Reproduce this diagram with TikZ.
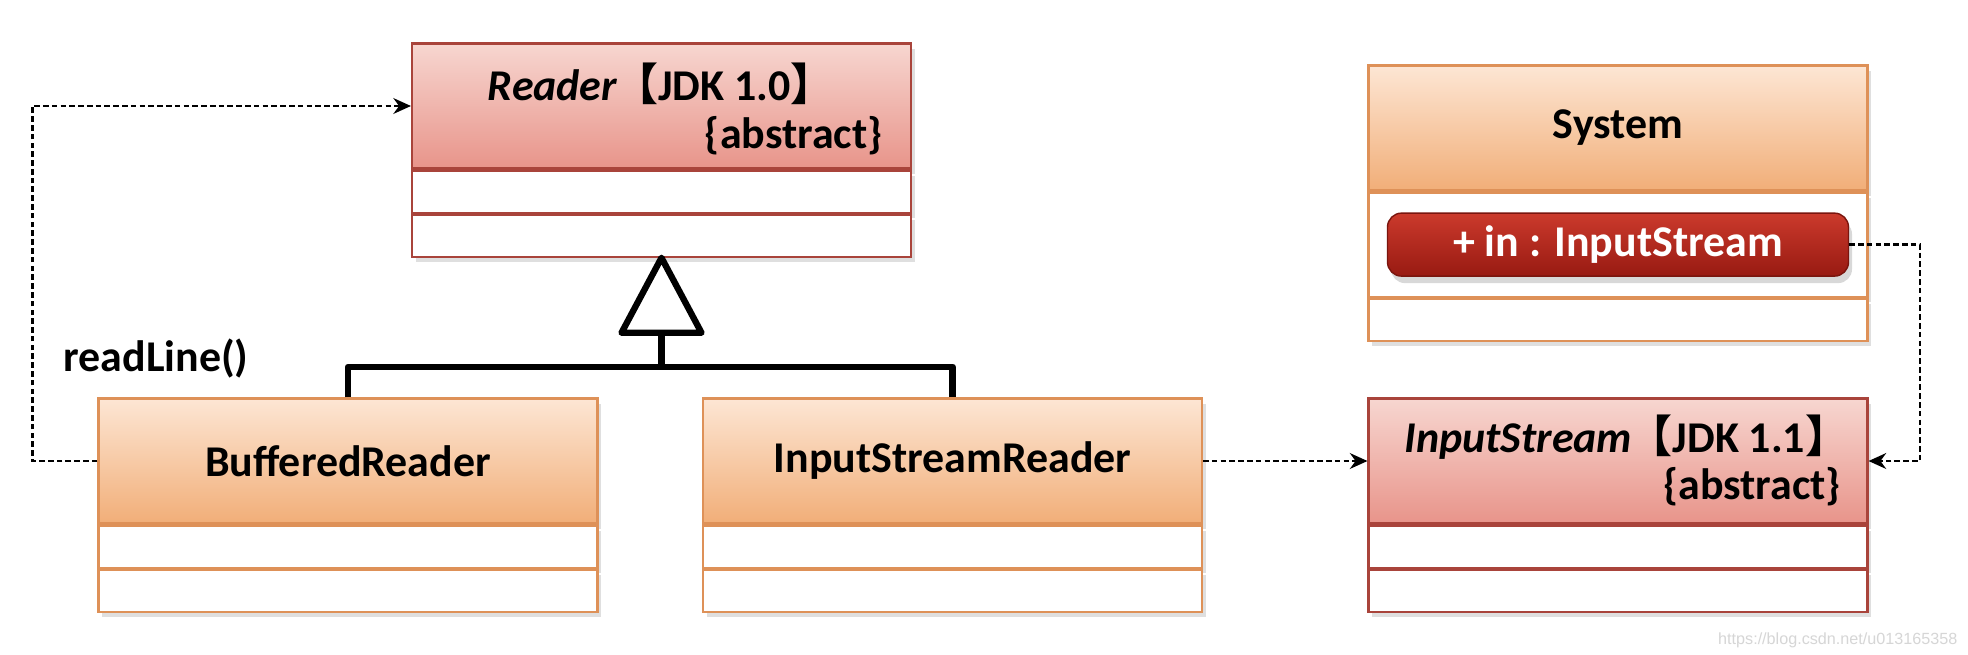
\documentclass[tikz,border=0pt]{standalone}
\usepackage{fontspec}
\setmainfont{Carlito}
\newfontfamily\cjk{Noto Sans CJK SC}
\newfontfamily\markfont{Liberation Sans}
\usepackage{tikz}
\usetikzlibrary{positioning,arrows.meta,shadows}
\definecolor{pinkline}{HTML}{A9443B}
\definecolor{pinktop}{HTML}{F7D6D0}
\definecolor{pinkbot}{HTML}{E8948A}
\definecolor{orangeline}{HTML}{DE9158}
\definecolor{orangetop}{HTML}{FDE6D4}
\definecolor{orangebot}{HTML}{F1AE78}
\definecolor{pilltop}{HTML}{CB3A2C}
\definecolor{pillbot}{HTML}{981A12}
\newcommand{\lbk}{\kern-0.3em{\cjk 【}}
\newcommand{\rbk}{{\cjk 】}\kern-0.4em}

\begin{document}
\begin{tikzpicture}[
	every node/.style={font=\fontsize{12.5pt}{15pt}\selectfont\bfseries},
	classhead/.style={minimum width=4.99cm,minimum height=1.25cm,inner sep=0pt,line width=0.6pt,
		drop shadow={shadow xshift=1pt,shadow yshift=-1.5pt,opacity=0.25}},
	pinkhead/.style={classhead,draw=pinkline,top color=pinktop,bottom color=pinkbot},
	orangehead/.style={classhead,draw=orangeline,top color=orangetop,bottom color=orangebot},
	slot/.style={minimum width=4.99cm,minimum height=0.42cm,inner sep=0pt,fill=white,line width=0.6pt,
		drop shadow={shadow xshift=1pt,shadow yshift=-1.5pt,opacity=0.25}},
	pinkslot/.style={slot,draw=pinkline},
	orangeslot/.style={slot,draw=orangeline},
	dep/.style={line width=0.7pt,dash pattern=on 1.6pt off 0.9pt,-{Stealth[length=5pt,width=4.5pt]}},
	inherit/.style={line width=1.8pt,line join=round}
]
	\fill[white] (0,0) rectangle (19.68,6.54);
	\node[pinkhead] (reader) at (6.615,5.48) {};
	\node[pinkslot,below=0pt of reader] (reader-a) {};
	\node[pinkslot,below=0pt of reader-a] (reader-b) {};
	\node (reader-name) at ([xshift=-0.09cm,yshift=0.22cm]reader.center) {\textit{Reader}\ \lbk JDK 1.0\rbk};
	\node[anchor=east,inner sep=0pt] (reader-abs) at ([xshift=-0.29cm,yshift=-0.30cm]reader.east) {\{abstract\}};

	\node[orangehead] (sys) at (16.18,5.26) {System};
	\node[orangeslot,below=0pt of sys,minimum height=1.04cm] (sys-a) {};
	\node[orangeslot,below=0pt of sys-a] (sys-b) {};
	\node[draw=pillbot!80!black,top color=pilltop,bottom color=pillbot,rounded corners=4pt,
		minimum width=4.61cm,minimum height=0.63cm,text=white,
		drop shadow={shadow xshift=1pt,shadow yshift=-2pt,opacity=0.3}] (pill) at (sys-a.center) {+ in : InputStream};

	\node[orangehead] (br) at (3.48,1.93) {BufferedReader};
	\node[orangeslot,below=0pt of br] (br-a) {};
	\node[orangeslot,below=0pt of br-a] (br-b) {};

	\node[orangehead] (isr) at (9.525,1.93) {InputStreamReader};
	\node[orangeslot,below=0pt of isr] (isr-a) {};
	\node[orangeslot,below=0pt of isr-a] (isr-b) {};

	\node[pinkhead] (is) at (16.18,1.93) {};
	\node[pinkslot,below=0pt of is] (is-a) {};
	\node[pinkslot,below=0pt of is-a] (is-b) {};
	\node (is-name) at ([yshift=0.24cm]is.center) {\textit{InputStream}\ \lbk JDK 1.1\rbk};
	\node[anchor=east,inner sep=0pt] (is-abs) at ([xshift=-0.27cm,yshift=-0.26cm]is.east) {\{abstract\}};

	\node[anchor=west,inner sep=0pt] (readline) at (0.63,2.95) {readLine()};

	\draw[inherit,fill=white] (reader-b.south) -- ++(-0.4,-0.75) -- ++(0.8,0) -- cycle;
	\coordinate (fork) at ([yshift=-1.09cm]reader-b.south);
	\draw[inherit] ([yshift=-0.75cm]reader-b.south) -- (fork);
	\draw[inherit] (br.north) |- (fork) -| (isr.north);

	\draw[dep] (br.west) -- ++(-0.65,0) |- (reader.west);
	\draw[dep] (isr.east) -- (is.west);
	\draw[dep] (pill.east) -- ++(0.71,0) |- (is.east);

	\node[anchor=east,inner sep=0pt,font=\fontsize{4.6pt}{5pt}\selectfont\markfont,text=black!16] (mark) at (19.58,0.14) {https://blog.csdn.net/u013165358};
\end{tikzpicture}
\end{document}
